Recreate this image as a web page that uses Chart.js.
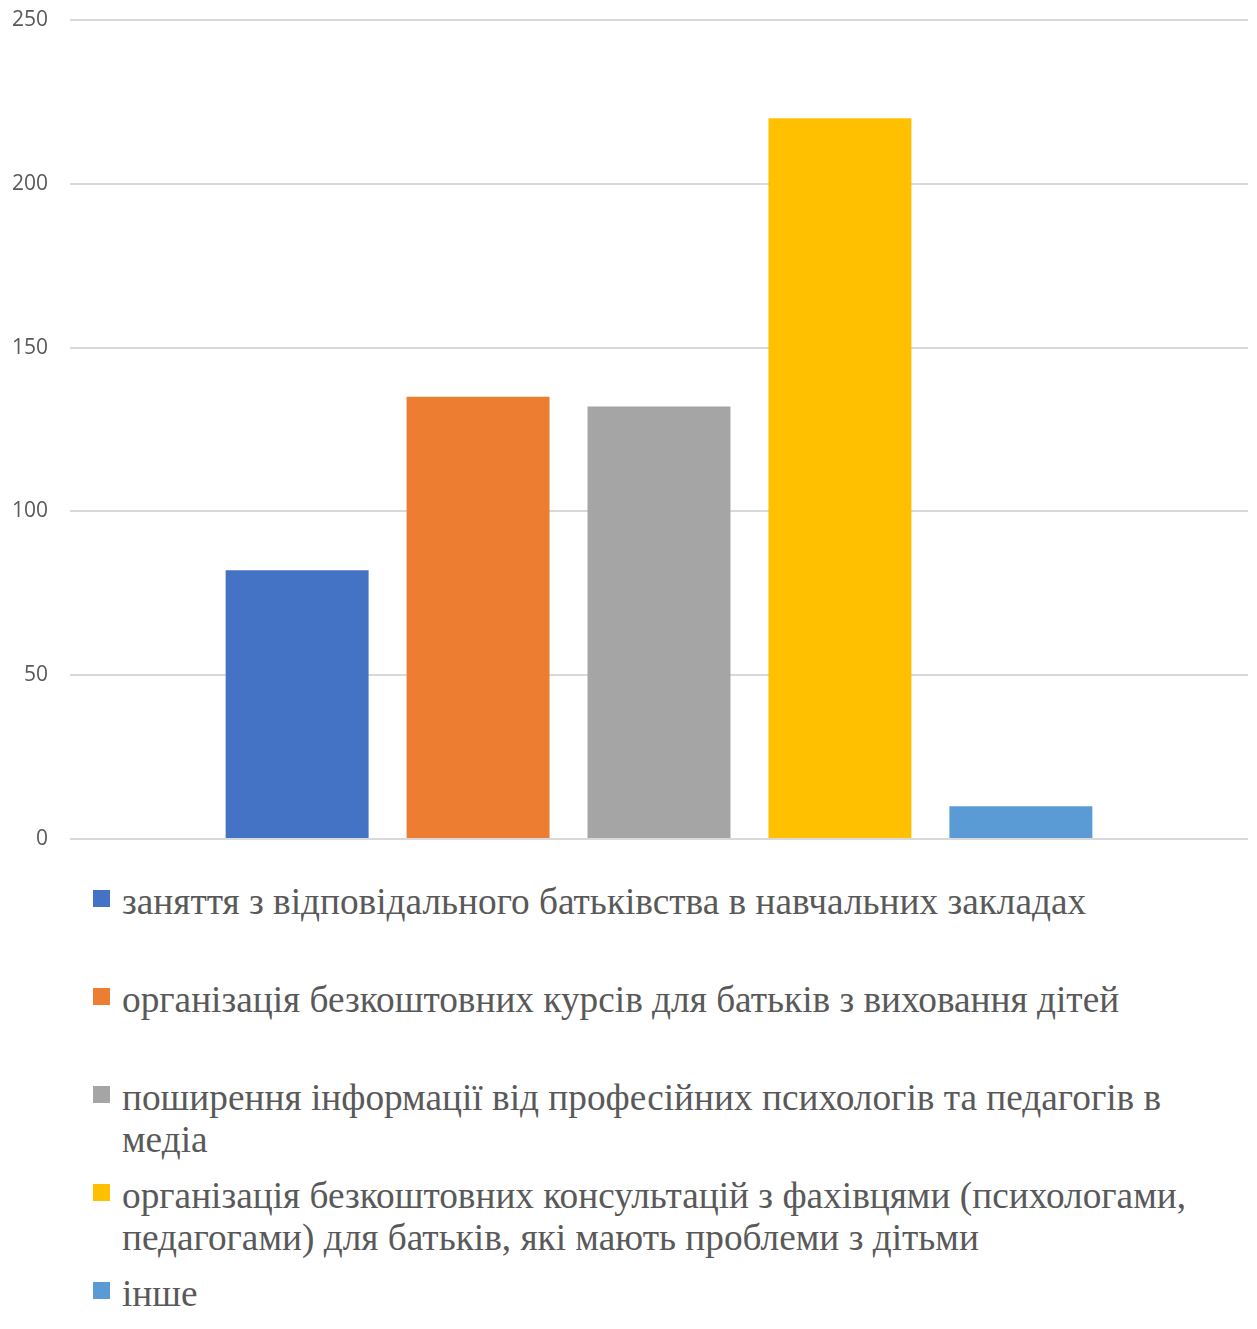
<!DOCTYPE html>
<html>
<head>
<meta charset="utf-8">
<script src="https://cdn.jsdelivr.net/npm/chart.js@4/dist/chart.umd.min.js"></script>
<style>
  html, body { margin: 0; padding: 0; background: #fff; overflow: hidden; }
  #wrap { position: relative; width: 1257px; height: 860px; }
  #legend { margin-top: 21px; }
  .item { display: flex; height: 98px; padding-left: 93px; }
  .item:last-child { height: auto; }
  .box { width: 17px; height: 17px; margin-top: 9px; margin-right: 12px; flex: none; }
  .text {
    width: 1100px;
    font-family: "Liberation Serif", "Times New Roman", serif;
    font-size: 37.3px;
    line-height: 42px;
    color: #595959;
  }
</style>
</head>
<body>
<div id="wrap"><canvas id="chart"></canvas></div>
<div id="legend"></div>
<script>
const seriesNames = [
  'заняття з відповідального батьківства в навчальних закладах',
  'організація безкоштовних курсів для батьків з виховання дітей',
  'поширення інформації від професійних психологів та педагогів в медіа',
  'організація безкоштовних консультацій з фахівцями (психологами, педагогами) для батьків, які мають проблеми з дітьми',
  'інше'
];
const seriesValues = [82, 135, 132, 220, 10];
const seriesColors = ['#4472C4', '#ED7D31', '#A5A5A5', '#FFC000', '#5B9BD5'];
const yTicks = [0, 50, 100, 150, 200, 250];

const ctx = document.getElementById('chart').getContext('2d');

const chart = new Chart(ctx, {
  type: 'bar',
  data: {
    labels: [''],
    datasets: seriesNames.map((name, i) => ({
      label: name,
      data: [seriesValues[i]],
      backgroundColor: seriesColors[i],
      borderWidth: 0,
      categoryPercentage: 0.768,
      barPercentage: 0.79
    }))
  },
  options: {
    responsive: true,
    maintainAspectRatio: false,
    animation: false,
    layout: { padding: { top: 20, right: 9, bottom: 21, left: 0 } },
    scales: {
      x: { display: false },
      y: {
        min: 0,
        max: 250,
        afterFit: (scale) => { scale.width = 70; },
        afterBuildTicks: (scale) => { scale.ticks = yTicks.map(v => ({ value: v })); },
        border: { display: false },
        // invisible tick marks give the label gap without adding vertical padding
        grid: { color: '#d9d9d9', lineWidth: 2, drawTicks: true, tickLength: 22, tickColor: 'rgba(0,0,0,0)' },
        ticks: {
          padding: 0,
          color: '#595959',
          font: { family: 'Open Sans', size: 21 }
        }
      }
    },
    plugins: {
      legend: { display: false },
      tooltip: { enabled: false }
    }
  }
});

// Legend as HTML so long labels can wrap
const legend = document.getElementById('legend');
chart.data.datasets.forEach(ds => {
  const item = document.createElement('div');
  item.className = 'item';
  const box = document.createElement('div');
  box.className = 'box';
  box.style.background = ds.backgroundColor;
  const text = document.createElement('div');
  text.className = 'text';
  text.textContent = ds.label;
  item.appendChild(box);
  item.appendChild(text);
  legend.appendChild(item);
});
</script>
</body>
</html>
